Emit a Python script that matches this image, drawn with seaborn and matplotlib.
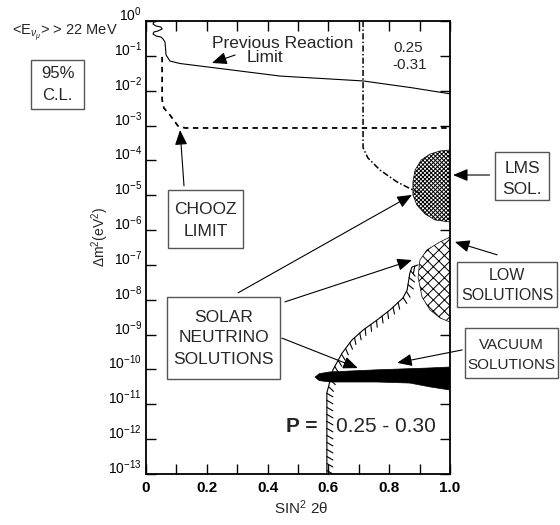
import numpy as np
import matplotlib
matplotlib.use("Agg")
import matplotlib.pyplot as plt
import matplotlib.patheffects as pe
from matplotlib.patches import Rectangle
from matplotlib.ticker import NullLocator, FixedLocator
import seaborn as sns

# ---------------- data (x = sin^2 2theta, e = log10 of dm^2) ----------------
prev_x = [0.039, 0.026, 0.023, 0.033, 0.049, 0.053, 0.039, 0.026, 0.023, 0.033, 0.049, 0.056,
          0.0625, 0.066, 0.079, 0.112, 0.286, 0.441, 0.714, 0.878, 1.0]
prev_e = [0.0, -0.029, -0.086, -0.143, -0.172, -0.23, -0.287, -0.316, -0.373, -0.43, -0.459, -0.516,
          -0.603, -0.976, -1.15, -1.22, -1.41, -1.58, -1.72, -1.92, -2.09]

chooz_x = [0.053, 0.053, 0.059, 0.079, 0.105, 0.128, 1.0]
chooz_e = [-1.03, -2.27, -2.50, -2.70, -3.01, -3.07, -3.07]

lim_x = [0.714, 0.714, 0.730, 0.770, 0.826, 0.878, 0.901]
lim_e = [0.0, -3.64, -3.93, -4.28, -4.62, -4.85, -4.94]

lms_x = [1.0, 0.967, 0.934, 0.905, 0.885, 0.878, 0.878, 0.891, 0.918, 0.951, 1.0]
lms_e = [-3.70, -3.73, -3.82, -3.99, -4.28, -4.62, -4.99, -5.28, -5.54, -5.71, -5.77]

low_x = [1.0, 0.967, 0.924, 0.901, 0.895, 0.908, 0.934, 0.967, 1.0]
low_e = [-6.20, -6.34, -6.57, -6.86, -7.35, -7.92, -8.29, -8.52, -8.64]

msw_x = [0.895, 0.875, 0.868, 0.859, 0.845, 0.803, 0.760, 0.714, 0.678, 0.645, 0.615, 0.595, 0.595]
msw_e = [-7.00, -7.06, -7.23, -7.72, -7.95, -8.29, -8.58, -8.87, -9.15, -9.53, -10.01, -10.67, -13.0]

vac_x = [0.556, 0.570, 0.605, 0.760, 0.924, 1.0, 1.0, 0.934, 0.868, 0.760, 0.605, 0.570, 0.556]
vac_e = [-10.22, -10.12, -10.07, -10.01, -9.96, -9.93, -10.59, -10.50, -10.39, -10.36, -10.36, -10.32, -10.22]

x_ticks = [0, 0.2, 0.4, 0.6, 0.8, 1.0]
x_ticklabels = ["0", "0.2", "0.4", "0.6", "0.8", "1.0"]
y_exps = list(range(0, -14, -1))

# ---------------- style ----------------
sns.set_style("ticks")
plt.rcParams['font.family'] = ['Liberation Sans', 'DejaVu Sans']
plt.rcParams['mathtext.fontset'] = 'custom'
plt.rcParams['mathtext.rm'] = 'Liberation Sans'
plt.rcParams['mathtext.it'] = 'Liberation Sans:italic'
plt.rcParams['mathtext.bf'] = 'Liberation Sans:bold'
plt.rcParams['hatch.linewidth'] = 0.7

W, H = 560, 525
fig = plt.figure(figsize=(W / 100, H / 100), dpi=100)
fig.patch.set_facecolor('white')

def fx(px):
    return px / W

def fy(py):
    return 1 - py / H

ax = fig.add_axes([fx(146), fy(474), (450 - 146) / W, (474 - 21) / H])
ax.set_facecolor('white')

def ys(e):
    return [10.0 ** v for v in e]

# regions
ax.fill(lms_x, ys(lms_e), facecolor='white', edgecolor='black', hatch='xxxxxxxx', lw=0.5, zorder=2)
ax.fill(low_x, ys(low_e), facecolor='white', edgecolor='black', hatch='xxx', lw=0.5, zorder=2)
ax.fill(vac_x, ys(vac_e), facecolor='black', edgecolor='black', lw=0.5, zorder=3)

# lines
sns.lineplot(x=prev_x, y=ys(prev_e), sort=False, estimator=None, color='black', lw=0.8, ax=ax)
sns.lineplot(x=chooz_x, y=ys(chooz_e), sort=False, estimator=None, color='black', lw=1.3, ax=ax)
ax.lines[-1].set_dashes((3, 2.5))
sns.lineplot(x=lim_x, y=ys(lim_e), sort=False, estimator=None, color='black', lw=1.1, ax=ax)
ax.lines[-1].set_dashes((4, 1.5, 1, 1.5))
sns.lineplot(x=msw_x, y=ys(msw_e), sort=False, estimator=None, color='black', lw=0.8, ax=ax)
ax.lines[-1].set_path_effects([pe.withTickedStroke(spacing=5, angle=60, length=1.0)])

# axes
ax.set_yscale('log')
ax.set_xlim(0, 1.0)
ax.set_ylim(1e-13, 1.0)
ax.set_xticks(x_ticks)
ax.set_xticklabels(x_ticklabels, fontsize=11, fontweight='bold')
ax.xaxis.set_minor_locator(FixedLocator([0.1, 0.3, 0.5, 0.7, 0.9]))
ax.yaxis.set_major_locator(FixedLocator([10.0 ** e for e in y_exps]))
ax.yaxis.set_minor_locator(NullLocator())
ax.set_yticklabels([r'$10^{%d}$' % e for e in y_exps], fontsize=10)
for lab in ax.get_yticklabels():
    lab.set_va('baseline')
ax.tick_params(which='both', direction='in', top=True, right=True, length=7, width=1.0,
               colors='black')
ax.tick_params(axis='y', pad=3)
ax.tick_params(axis='x', pad=5)
for s in ax.spines.values():
    s.set_linewidth(1.3)
    s.set_color('black')
ax.set_xlabel('')
ax.set_ylabel('')

# axis labels
fig.text(fx(301), fy(508), r'SIN$^2$ 2θ', ha='center', va='center', fontsize=11)
fig.text(fx(100), fy(237), r'Δm$^2$(eV$^2$)', ha='center', va='center', fontsize=10, rotation=90)

# free text
fig.text(fx(65), fy(33), r'<E$_{\nu_\mu}$> > 22 MeV', ha='center', va='center', fontsize=10.5)
fig.text(fx(283), fy(43), 'Previous Reaction', ha='center', va='center', fontsize=12.5)
fig.text(fx(265), fy(57), 'Limit', ha='center', va='center', fontsize=12.5)
fig.text(fx(408), fy(48), '0.25', ha='center', va='center', fontsize=11)
fig.text(fx(410), fy(65), '-0.31', ha='center', va='center', fontsize=11)
fig.text(fx(302), fy(427), 'P =', ha='center', va='center', fontsize=15, fontweight='bold')
fig.text(fx(386), fy(427), '0.25 - 0.30', ha='center', va='center', fontsize=15)

# boxed labels (pixel boxes)
def box(x0, y0, x1, y1, lines, ycs, fs):
    fig.patches.append(Rectangle((fx(x0), fy(y1)), fx(x1) - fx(x0), fy(y0) - fy(y1),
                                 transform=fig.transFigure, facecolor='white',
                                 edgecolor='#555555', lw=1.0, zorder=5))
    for t, yc in zip(lines, ycs):
        fig.text(fx((x0 + x1) / 2), fy(yc), t, ha='center', va='center', fontsize=fs, zorder=6)

box(31, 60, 84, 109, ['95%', 'C.L.'], [74, 96], 12)
box(168, 190, 243, 248, ['CHOOZ', 'LIMIT'], [210, 232], 12.5)
box(167, 297, 280, 379, ['SOLAR', 'NEUTRINO', 'SOLUTIONS'], [317, 338, 360], 12.5)
box(495, 152, 549, 200, ['LMS', 'SOL.'], [168, 189], 12.5)
box(457, 262, 557, 307, ['LOW', 'SOLUTIONS'], [275, 296], 11.5)
box(465, 328, 558, 378, ['VACUUM', 'SOLUTIONS'], [345, 365], 11)

# arrows (head x, head exp, tail x, tail exp)
arrows = [
    (0.217, -1.205, 0.293, -0.976),
    (0.112, -3.13, 0.125, -4.73),
    (1.01, -4.42, 1.13, -4.42),
    (1.016, -6.34, 1.155, -6.71),
    (0.826, -9.81, 1.04, -9.44),
    (0.875, -4.99, 0.303, -7.80),
    (0.875, -6.86, 0.457, -8.06),
    (0.697, -9.96, 0.447, -9.10),
]
for hx, he, tx, te in arrows:
    ax.annotate('', xy=(hx, 10.0 ** he), xytext=(tx, 10.0 ** te),
                arrowprops=dict(arrowstyle='-|>,head_length=0.6,head_width=0.25',
                                mutation_scale=15, lw=0.8, color='black',
                                shrinkA=0, shrinkB=0),
                annotation_clip=False, zorder=7)

fig.savefig('out.png', dpi=100, facecolor='white')
